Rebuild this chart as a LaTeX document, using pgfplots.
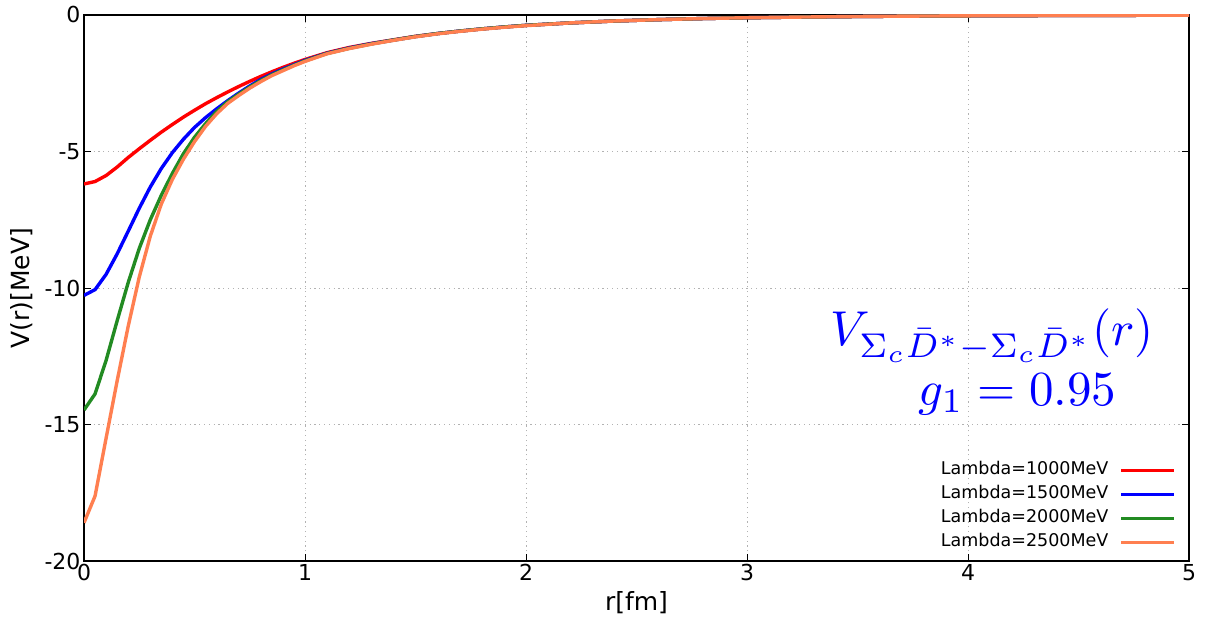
\documentclass[border=0pt]{standalone}
\usepackage[no-math]{fontspec}
\setmainfont{DejaVu Sans}
\usepackage{graphicx}
\usepackage{pgfplots}
\usepackage{pgfplotstable}
\pgfplotsset{compat=1.18}
\definecolor{cred}{RGB}{255,0,0}
\definecolor{cblue}{RGB}{0,0,255}
\definecolor{cgreen}{RGB}{34,139,34}
\definecolor{corange}{RGB}{255,127,80}

\pgfplotstableread{
r V
0.00 -6.19
0.05 -6.10
0.10 -5.88
0.15 -5.57
0.20 -5.22
0.25 -4.90
0.30 -4.59
0.35 -4.29
0.40 -4.01
0.45 -3.74
0.50 -3.49
0.55 -3.25
0.60 -3.03
0.65 -2.82
0.70 -2.62
0.75 -2.43
0.80 -2.25
0.85 -2.08
0.90 -1.92
0.95 -1.77
1.00 -1.63
1.10 -1.38
1.20 -1.19
1.30 -1.04
1.40 -0.91
1.50 -0.78
1.60 -0.68
1.70 -0.59
1.80 -0.51
1.90 -0.44
2.00 -0.38
2.20 -0.29
2.40 -0.22
2.60 -0.17
2.80 -0.13
3.00 -0.10
3.25 -0.075
3.50 -0.055
3.75 -0.040
4.00 -0.030
4.50 -0.015
5.00 -0.008
}\tred

\pgfplotstableread{
r V
0.00 -10.27
0.05 -10.06
0.10 -9.50
0.15 -8.75
0.20 -7.92
0.25 -7.08
0.30 -6.30
0.35 -5.62
0.40 -5.04
0.45 -4.55
0.50 -4.12
0.55 -3.76
0.60 -3.44
0.65 -3.14
0.70 -2.86
0.75 -2.60
0.80 -2.36
0.85 -2.16
0.90 -1.98
0.95 -1.82
1.00 -1.66
1.10 -1.40
1.20 -1.21
1.30 -1.05
1.40 -0.92
1.50 -0.79
1.60 -0.68
1.70 -0.59
1.80 -0.51
1.90 -0.44
2.00 -0.38
2.20 -0.29
2.40 -0.22
2.60 -0.17
2.80 -0.13
3.00 -0.10
3.25 -0.075
3.50 -0.055
3.75 -0.040
4.00 -0.030
4.50 -0.015
5.00 -0.008
}\tblue

\pgfplotstableread{
r V
0.00 -14.47
0.05 -13.88
0.10 -12.65
0.15 -11.20
0.20 -9.80
0.25 -8.55
0.30 -7.50
0.35 -6.60
0.40 -5.80
0.45 -5.08
0.50 -4.48
0.55 -3.98
0.60 -3.54
0.65 -3.18
0.70 -2.90
0.75 -2.64
0.80 -2.40
0.85 -2.19
0.90 -2.01
0.95 -1.84
1.00 -1.68
1.10 -1.41
1.20 -1.22
1.30 -1.06
1.40 -0.92
1.50 -0.79
1.60 -0.68
1.70 -0.59
1.80 -0.51
1.90 -0.44
2.00 -0.38
2.20 -0.29
2.40 -0.22
2.60 -0.17
2.80 -0.13
3.00 -0.10
3.25 -0.075
3.50 -0.055
3.75 -0.040
4.00 -0.030
4.50 -0.015
5.00 -0.008
}\tgreen

\pgfplotstableread{
r V
0.00 -18.60
0.05 -17.62
0.10 -15.50
0.15 -13.40
0.20 -11.40
0.25 -9.60
0.30 -8.10
0.35 -6.92
0.40 -6.02
0.45 -5.28
0.50 -4.64
0.55 -4.08
0.60 -3.62
0.65 -3.24
0.70 -2.95
0.75 -2.68
0.80 -2.44
0.85 -2.22
0.90 -2.04
0.95 -1.86
1.00 -1.70
1.10 -1.42
1.20 -1.23
1.30 -1.07
1.40 -0.93
1.50 -0.80
1.60 -0.69
1.70 -0.60
1.80 -0.52
1.90 -0.45
2.00 -0.39
2.20 -0.29
2.40 -0.22
2.60 -0.17
2.80 -0.13
3.00 -0.10
3.25 -0.075
3.50 -0.055
3.75 -0.040
4.00 -0.030
4.50 -0.015
5.00 -0.008
}\torange

\begin{document}
\begin{tikzpicture}
\begin{axis}[name=ax, scale only axis, width=1105pt, height=546pt,
  xmin=0, xmax=5, ymin=-20, ymax=0,
  xtick={0,1,2,3,4,5}, ytick={-20,-15,-10,-5,0},
  xticklabels={0,1,2,3,4,5}, yticklabels={-20,-15,-10,-5,0},
  tick label style={font=\fontsize{22}{26}\selectfont},
  major tick length=7pt, tick style={black, line width=1pt},
  axis line style={line width=1.1pt},
  grid=major, grid style={gray!60, line width=0.9pt, dash pattern=on 1.2pt off 3.6pt},
  xlabel={r[fm]}, ylabel={V(r)[MeV]},
  every axis x label/.style={at={([yshift=-42pt]rel axis cs:0.5,0)}, anchor=center, font=\fontsize{25}{29}\selectfont},
  every axis y label/.style={at={([xshift=-62pt]rel axis cs:0,0.5)}, anchor=center, rotate=90, font=\fontsize{25}{29}\selectfont},
  legend plot pos=right, legend cell align=right,
  legend style={draw=none, fill=none, at={(rel axis cs:1,0)}, xshift=-13pt, yshift=10pt, anchor=south east,
    font=\fontsize{17.5}{20}\selectfont, row sep=7pt, column sep=11pt, inner sep=0pt,
    nodes={inner sep=0pt, text height=13pt, text depth=4pt}},
  legend image code/.code={\draw[#1] (0pt,0pt) -- (53pt,0pt);},
  every axis plot/.append style={line width=3.4pt},
]
\addplot[cred] table[x=r,y=V] {\tred};
\addlegendentry{Lambda=1000MeV}
\addplot[cblue] table[x=r,y=V] {\tblue};
\addlegendentry{Lambda=1500MeV}
\addplot[cgreen] table[x=r,y=V] {\tgreen};
\addlegendentry{Lambda=2000MeV}
\addplot[corange] table[x=r,y=V] {\torange};
\addlegendentry{Lambda=2500MeV}
\node[anchor=base, inner sep=0pt, text=cblue, font=\normalsize] at (axis cs:4.11,-12.12) {\scalebox{4.9}{$V_{\Sigma_c\bar{D}^*-\Sigma_c\bar{D}^*}(r)$}};
\node[anchor=base, inner sep=0pt, text=cblue, font=\normalsize] at (axis cs:4.224,-14.29) {\scalebox{4.9}{$g_1=0.95$}};
\end{axis}
\pgfresetboundingbox
\path[use as bounding box] ([shift={(-84pt,-80pt)}]ax.south west) rectangle ([shift={(29pt,15pt)}]ax.north east);
\end{tikzpicture}
\end{document}
